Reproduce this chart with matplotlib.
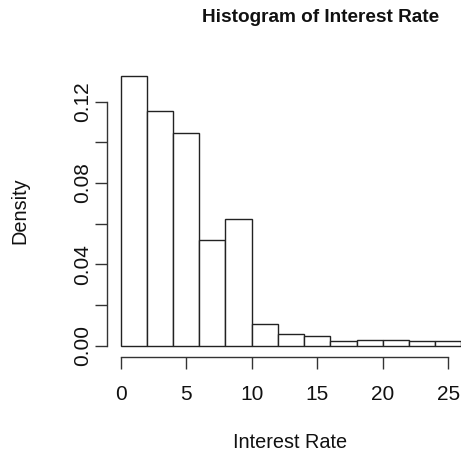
import numpy as np
import matplotlib
matplotlib.use("Agg")
import matplotlib.pyplot as plt

plt.rcParams['font.family'] = ['Liberation Sans', 'DejaVu Sans']

# histogram bins (width 2) and density values
bin_edges = [0, 2, 4, 6, 8, 10, 12, 14, 16, 18, 20, 22, 24, 26]
density = [0.1327, 0.1154, 0.1045, 0.0520, 0.0623, 0.0107, 0.0056,
           0.0048, 0.0022, 0.0028, 0.0028, 0.0023, 0.0025]
x_ticks = [0, 5, 10, 15, 20, 25]
y_ticks = [0.00, 0.02, 0.04, 0.06, 0.08, 0.10, 0.12]
y_labels = ["0.00", "", "0.04", "", "0.08", "", "0.12"]

W, H = 461, 458
fig = plt.figure(figsize=(W / 100, H / 100), dpi=100)
# plot region in pixels (R-style 4% expansion around the data)
left, right, top, bottom = 107, 475, 65, 356.5
ax = fig.add_axes([left / W, 1 - bottom / H, (right - left) / W, (bottom - top) / H])

lefts = np.array(bin_edges[:-1])
widths = np.diff(bin_edges)
ax.bar(lefts, density, width=widths, align='edge', facecolor='white',
       edgecolor='#222222', linewidth=1.0)

xmin, xmax = bin_edges[0], bin_edges[-1]
pad_x = (xmax - xmin) * 0.04
ymax = max(density)
ax.set_xlim(xmin - pad_x, xmax + pad_x)
ax.set_ylim(-ymax * 0.04, ymax * 1.04)

for s in ['top', 'right']:
    ax.spines[s].set_visible(False)
ax.spines['left'].set_bounds(y_ticks[0], y_ticks[-1])
ax.spines['bottom'].set_bounds(x_ticks[0], x_ticks[-1])
for s in ['left', 'bottom']:
    ax.spines[s].set_color('#333333')
    ax.spines[s].set_linewidth(1.0)

ax.set_xticks(x_ticks)
ax.set_yticks(y_ticks)
ax.set_yticklabels(y_labels, rotation=90, va='center')
ax.tick_params(axis='both', direction='out', length=8.6, width=1.0,
               color='#333333', labelsize=15, labelcolor='#111111')
ax.tick_params(axis='y', pad=2)
ax.tick_params(axis='x', pad=12)

fig.text(321 / W, 1 - 18 / H, "Histogram of Interest Rate", ha='center',
         va='center', fontsize=13.7, fontweight='bold', color='#111111')
fig.text(290 / W, 1 - 442 / H, "Interest Rate", ha='center', va='center',
         fontsize=14.3, color='#111111')
fig.text(20 / W, 1 - 211 / H, "Density", ha='center', va='center',
         rotation=90, fontsize=14.3, color='#111111')

fig.savefig("out.png", dpi=100)
